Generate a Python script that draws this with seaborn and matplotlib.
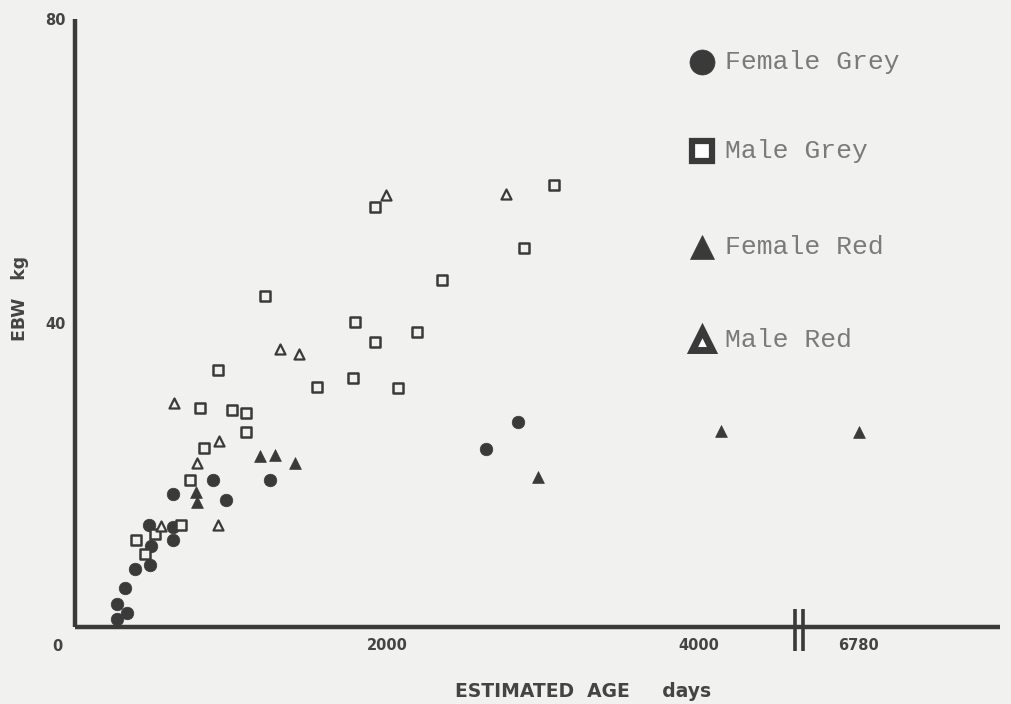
import numpy as np
import pandas as pd
import matplotlib
matplotlib.use("Agg")
import matplotlib.pyplot as plt
import seaborn as sns

# Empty body weight (kg) against estimated age (days), by sex and colour morph
fg_age = [267, 331, 271, 322, 385, 481, 485, 476, 626, 630, 630, 887, 966, 1250, 2637, 2842]
fg_ebw = [1.1, 1.9, 3.0, 5.1, 7.6, 8.2, 10.7, 13.4, 11.4, 13.2, 17.5, 19.4, 16.7, 19.4, 23.4, 27.0]

mg_age = [1216, 1795, 1921, 919, 1553, 1780, 2070, 799, 1008, 1096, 1096, 829, 737, 681,
          393, 451, 515, 1925, 3068, 2876, 2352, 2192]
mg_ebw = [43.6, 40.1, 37.5, 33.8, 31.6, 32.7, 31.4, 28.8, 28.5, 28.2, 25.6, 23.5, 19.4, 13.4,
          11.4, 9.6, 12.3, 55.2, 58.1, 49.9, 45.6, 38.8]

fr_age = [1186, 1282, 1412, 776, 780, 2970, 4141, 6780]
fr_ebw = [22.5, 22.6, 21.6, 17.7, 16.5, 19.7, 25.8, 25.7]

mr_age = [1314, 1436, 633, 921, 782, 551, 919, 1992, 2761]
mr_ebw = [36.6, 35.9, 29.5, 24.5, 21.6, 13.3, 13.4, 56.8, 57.0]

groups = ["Female Grey", "Male Grey", "Female Red", "Male Red"]
x_ticks = [2000, 4000, 6780]
y_ticks = [40, 80]

df = pd.concat([
    pd.DataFrame({"age": fg_age, "ebw": fg_ebw, "group": groups[0]}),
    pd.DataFrame({"age": mg_age, "ebw": mg_ebw, "group": groups[1]}),
    pd.DataFrame({"age": fr_age, "ebw": fr_ebw, "group": groups[2]}),
    pd.DataFrame({"age": mr_age, "ebw": mr_ebw, "group": groups[3]}),
], ignore_index=True)

# broken age axis: everything past the break is pulled left by GAP days
BREAK = 4700.0
GAP = 1756.0

def fwd(x):
    x = np.asarray(x, dtype=float)
    return np.where(x > BREAK, x - GAP, x)

def inv(x):
    x = np.asarray(x, dtype=float)
    return np.where(x > BREAK, x + GAP, x)

BG = "#f1f1ef"
INK = "#3a3a3a"
TXT = "#444444"

sns.set_theme(style="white")
plt.rcParams["font.family"] = ["DejaVu Sans"]

fig = plt.figure(figsize=(10.12, 7.04), dpi=100, facecolor=BG)
ax = fig.add_axes([75 / 1012, 1 - 627 / 704, (1000 - 75) / 1012, (627 - 19) / 704])
ax.set_facecolor(BG)
ax.set_xscale("function", functions=(fwd, inv))

styles = {
    "Female Grey": dict(marker="o", s=82, color=INK, edgecolor=INK, linewidth=0.5),
    "Male Grey": dict(marker="s", s=46, color=BG, edgecolor=INK, linewidth=1.8),
    "Female Red": dict(marker="^", s=72, color=INK, edgecolor=INK, linewidth=0.5),
    "Male Red": dict(marker="^", s=52, color=BG, edgecolor=INK, linewidth=1.6),
}
for g in groups:
    sub = df[df["group"] == g]
    sns.scatterplot(data=sub, x="age", y="ebw", ax=ax, legend=False, zorder=3, **styles[g])

ax.set_xlim(0, 5930 + GAP)
ax.set_ylim(0, 80)

for side in ["top", "right"]:
    ax.spines[side].set_visible(False)
for side in ["left", "bottom"]:
    ax.spines[side].set_linewidth(3.2)
    ax.spines[side].set_color(INK)
    ax.spines[side].set_capstyle("butt")

ax.set_xticks(x_ticks)
ax.set_xticklabels([str(v) for v in x_ticks])
ax.set_yticks(y_ticks)
ax.set_yticklabels([str(v) for v in y_ticks])
ax.tick_params(axis="x", length=0, pad=8, labelsize=10.5, labelcolor=TXT)
ax.tick_params(axis="y", length=4, width=1.2, color=INK, pad=3, labelsize=10.5, labelcolor=TXT)
for lab in ax.get_xticklabels() + ax.get_yticklabels():
    lab.set_fontweight("bold")

ax.annotate("0", xy=(0, 0), xycoords="data", xytext=(-13, -14), textcoords="offset points",
            ha="center", va="center", fontsize=10.5, fontweight="bold", color=TXT,
            annotation_clip=False)

ax.set_xlabel("ESTIMATED  AGE     days", fontsize=13.5, fontweight="bold", color=TXT)
ax.xaxis.set_label_coords((583 - 75) / 925, (627 - 682) / 608)
ax.set_ylabel("EBW   kg", fontsize=12.5, fontweight="bold", color=TXT)
ax.yaxis.set_label_coords(-0.05, 0.54)

# axis break marks
for bx in (4615, 4667):
    ax.plot([bx, bx], [-0.04, 0.03], transform=ax.get_xaxis_transform(), color=INK,
            lw=2.6, clip_on=False, solid_capstyle="butt", zorder=5)

# key
key_x, text_x = 702 / 1012, 725 / 1012
rows = [62, 151, 247, 340]
key_styles = [
    dict(marker="o", markersize=18, color=INK, mec=INK, mew=0.5),
    dict(marker="s", markersize=14, color="white", mec=INK, mew=4.5),
    dict(marker="^", markersize=17, color=INK, mec=INK, mew=0.5),
    dict(marker="^", markersize=14, color="white", mec=INK, mew=5.0),
]
for g, ry, ks in zip(groups, rows, key_styles):
    yy = 1 - ry / 704
    fig.lines.append(plt.Line2D([key_x], [yy], transform=fig.transFigure, linestyle="none", **ks))
    fig.text(text_x, yy, g, fontsize=19, family=["Liberation Mono", "DejaVu Sans Mono"],
             color="#7a7a7a", ha="left", va="center")

fig.savefig("out.png", dpi=100, facecolor=BG)
